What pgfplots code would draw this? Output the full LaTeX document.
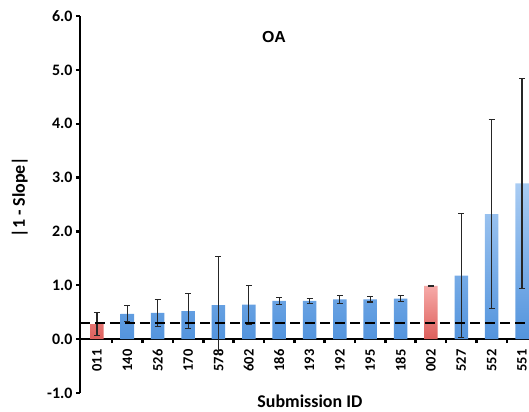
\documentclass[border=0pt]{standalone}
\usepackage{pgfplots}
\pgfplotsset{compat=1.18}
\usepackage{fontspec}
\setmainfont{Carlito}
\newfontfamily\titlefont{Liberation Sans}
\definecolor{bluetop}{HTML}{A9CCF3}
\definecolor{bluebot}{HTML}{5394DD}
\definecolor{redtop}{HTML}{F6AAA8}
\definecolor{redbot}{HTML}{DE5F5B}
\begin{document}
\begin{tikzpicture}
\begin{axis}[
  scale only axis,
  width=449bp, height=377bp,
  xmin=-0.56, xmax=14.23,
  ymin=-1, ymax=6,
  axis y line=left,
  axis x line=middle,
  axis line style={line width=2.6bp, -},
  ytick={-1,0,...,6},
  yticklabel style={/pgf/number format/.cd, fixed, fixed zerofill, precision=1, assume math mode=true},
  yticklabel={\bfseries\fontsize{16}{16}\selectfont\pgfmathprintnumber{\tick}},
  xtick={0,...,14},
  xticklabels={011,140,526,170,578,602,186,193,192,195,185,002,527,552,551},
  xticklabel style={rotate=90, anchor=east, font=\bfseries\fontsize{14.5}{14.5}\selectfont, xshift=-3bp},
  major x tick style={draw=none},
  minor xtick={0.5,1.5,...,13.5},
  minor x tick style={line width=2.6bp, black},
  minor tick length=4bp,
  major tick length=4bp,
  ytick style={line width=2.2bp, black},
  tick align=outside,
  clip=false,
]
% blue bars
\addplot[ybar, bar width=13.5bp, draw=none, top color=bluetop, bottom color=bluebot, bar shift=0pt,
  error bars/.cd, y dir=both, y explicit,
  error bar style={line width=1.1bp, black!85},
  error mark options={line width=1.1bp, black!85, mark size=3bp, rotate=90}]
  coordinates {
  (1,0.47) +- (0,0.15)
  (2,0.49) +- (0,0.25)
  (3,0.52) +- (0,0.33)
  (4,0.63) +- (0,0.90)
  (5,0.64) +- (0,0.36)
  (6,0.71) +- (0,0.06)
  (7,0.71) +- (0,0.045)
  (8,0.74) +- (0,0.07)
  (9,0.74) +- (0,0.05)
  (10,0.75) +- (0,0.055)
  (12,1.18) +- (0,1.15)
  (13,2.32) +- (0,1.75)
  (14,2.89) +- (0,1.95)
  };
% red bars
\addplot[ybar, bar width=13.5bp, draw=none, top color=redtop, bottom color=redbot, bar shift=0pt,
  error bars/.cd, y dir=both, y explicit,
  error bar style={line width=1.1bp, black!85},
  error mark options={line width=1.1bp, black!85, mark size=3bp, rotate=90}]
  coordinates {
  (0,0.28) +- (0,0.22)
  (11,0.99) +- (0,0.005)
  };
% threshold
\addplot[black, line width=1.8bp, dash pattern=on 10bp off 5bp, forget plot] coordinates {(-0.56,0.3) (14.23,0.3)};
\node[font=\titlefont\bfseries\fontsize{16}{16}\selectfont] at (rel axis cs:0.432,0.944) {OA};
\node[font=\bfseries\fontsize{18}{18}\selectfont] at (rel axis cs:0.512,-0.022) {Submission ID};
\node[font=\bfseries\fontsize{18}{18}\selectfont, rotate=90] at (rel axis cs:-0.134,0.52) {|1 - Slope|};
\end{axis}
\pgfresetboundingbox
\path[use as bounding box] (-80bp,-19bp) rectangle (449bp,393bp);
\end{tikzpicture}
\end{document}
